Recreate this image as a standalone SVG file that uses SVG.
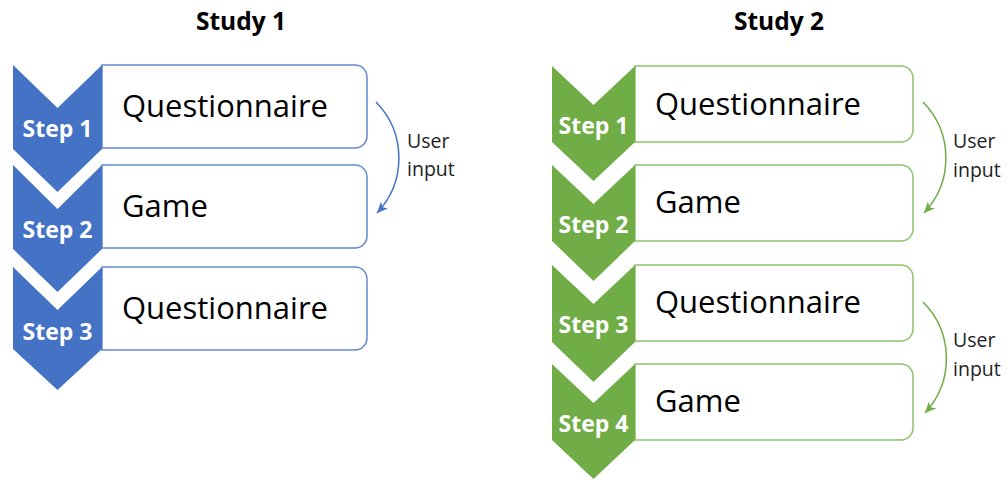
<svg xmlns="http://www.w3.org/2000/svg" width="1007" height="480" viewBox="0 0 1007 480">
<defs>
<style>
.title{font-family:"Open Sans","Liberation Sans",sans-serif;font-weight:bold;font-size:24.5px;fill:#000;text-anchor:middle}
.step{font-family:"Open Sans","Liberation Sans",sans-serif;font-weight:bold;font-size:23px;fill:#fff;text-anchor:middle}
.lbl{font-family:"Open Sans","Liberation Sans",sans-serif;font-size:31px;fill:#000}
.note{font-family:"Open Sans","Liberation Sans",sans-serif;font-size:19.5px;fill:#222}
.bbox{fill:#fff;stroke:#6489D2;stroke-width:1.5}
.gbox{fill:#fff;stroke:#8DC26A;stroke-width:1.5}
.bchev{fill:#4472C4}
.gchev{fill:#70AD47}
.barc{fill:none;stroke:#4472C4;stroke-width:1.5}
.garc{fill:none;stroke:#70AD47;stroke-width:1.5}
</style>
<marker id="ab" markerUnits="userSpaceOnUse" markerWidth="14" markerHeight="12" refX="11" refY="5" orient="auto"><path d="M0,0 L11,5 L0,10 L3,5 Z" fill="#4472C4"/></marker>
<marker id="ag" markerUnits="userSpaceOnUse" markerWidth="14" markerHeight="12" refX="11" refY="5" orient="auto"><path d="M0,0 L11,5 L0,10 L3,5 Z" fill="#70AD47"/></marker>
</defs>
<rect width="1007" height="480" fill="#fff"/>
<text class="title" x="241" y="30">Study 1</text>
<text class="title" x="779" y="30">Study 2</text>

<g id="s1-step1">
<path class="bbox" d="M102,65 H355 A12,12 0 0 1 367,77 V136 A12,12 0 0 1 355,148 H102 Z"/>
<path class="bchev" d="M13,65 L57.5,108 L102,65 V149 L57.5,192 L13,149 Z"/>
<text class="step" x="57.5" y="137">Step 1</text>
<text class="lbl" x="122" y="117">Questionnaire</text>
</g>
<g id="s1-step2">
<path class="bbox" d="M102,165 H355 A12,12 0 0 1 367,177 V236 A12,12 0 0 1 355,248 H102 Z"/>
<path class="bchev" d="M13,165 L57.5,209 L102,165 V249 L57.5,292 L13,249 Z"/>
<text class="step" x="57.5" y="238">Step 2</text>
<text class="lbl" x="122" y="217">Game</text>
</g>
<g id="s1-step3">
<path class="bbox" d="M102,267 H355 A12,12 0 0 1 367,279 V338 A12,12 0 0 1 355,350 H102 Z"/>
<path class="bchev" d="M13,267 L57.5,310 L102,267 V349 L57.5,390 L13,349 Z"/>
<text class="step" x="57.5" y="340">Step 3</text>
<text class="lbl" x="122" y="319">Questionnaire</text>
</g>

<g id="s2-step1">
<path class="gbox" d="M635,66 H901 A12,12 0 0 1 913,78 V130 A12,12 0 0 1 901,142 H635 Z"/>
<path class="gchev" d="M552,66 L593.5,105 L635,66 V142 L593.5,181 L552,142 Z"/>
<text class="step" x="593.5" y="134">Step 1</text>
<text class="lbl" x="655" y="115">Questionnaire</text>
</g>
<g id="s2-step2">
<path class="gbox" d="M635,165 H901 A12,12 0 0 1 913,177 V229 A12,12 0 0 1 901,241 H635 Z"/>
<path class="gchev" d="M552,165 L593.5,204 L635,165 V241 L593.5,281 L552,241 Z"/>
<text class="step" x="593.5" y="233">Step 2</text>
<text class="lbl" x="655" y="213">Game</text>
</g>
<g id="s2-step3">
<path class="gbox" d="M635,265 H901 A12,12 0 0 1 913,277 V329 A12,12 0 0 1 901,341 H635 Z"/>
<path class="gchev" d="M552,265 L593.5,304 L635,265 V342 L593.5,382 L552,342 Z"/>
<text class="step" x="593.5" y="333">Step 3</text>
<text class="lbl" x="655" y="313">Questionnaire</text>
</g>
<g id="s2-step4">
<path class="gbox" d="M635,364 H901 A12,12 0 0 1 913,376 V428 A12,12 0 0 1 901,440 H635 Z"/>
<path class="gchev" d="M552,364 L593.5,403 L635,364 V440 L593.5,479 L552,440 Z"/>
<text class="step" x="593.5" y="432">Step 4</text>
<text class="lbl" x="655" y="412">Game</text>
</g>

<g id="connectors">
<path class="barc" d="M376,102 A80,80 0 0 1 377,213" marker-end="url(#ab)"/>
<path class="garc" d="M923,102 A80,80 0 0 1 924,213" marker-end="url(#ag)"/>
<path class="garc" d="M923,302 A80,80 0 0 1 925,413" marker-end="url(#ag)"/>
<text class="note" x="407" y="148">User</text>
<text class="note" x="407" y="176">input</text>
<text class="note" x="953" y="148">User</text>
<text class="note" x="953" y="177">input</text>
<text class="note" x="953" y="347">User</text>
<text class="note" x="953" y="376">input</text>
</g>
</svg>
